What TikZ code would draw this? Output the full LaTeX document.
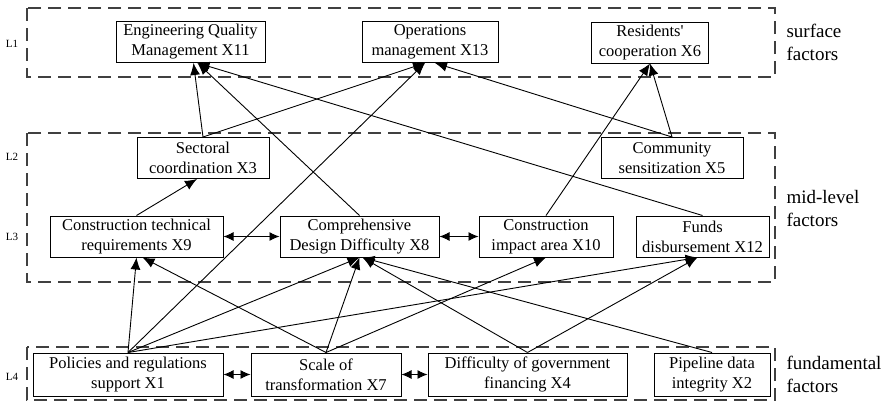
\documentclass[tikz,border=0pt]{standalone}
\usepackage{fontspec}
\setmainfont{Liberation Serif}
\usetikzlibrary{arrows.meta}

\tikzset{
  box/.style={draw, line width=1pt, align=center, inner sep=1pt,
    minimum height=41pt, font=\fontsize{16.5}{20}\selectfont},
  layerbox/.style={draw=black!75, line width=1.1pt, dash pattern=on 13pt off 7pt},
  lvl/.style={font=\fontsize{11}{13}\selectfont},
  side/.style={anchor=west, align=left, font=\fontsize{19}{23}\selectfont},
  link/.style={line width=0.9pt, -{Latex[length=12pt,width=10pt]}},
  both/.style={line width=0.9pt, {Latex[length=10pt,width=9pt]}-{Latex[length=10pt,width=9pt]}}
}

\begin{document}
\begin{tikzpicture}[x=1pt, y=-1pt]
\useasboundingbox (0,0) rectangle (892,402);
% layers
\draw [layerbox] (27,8) rectangle (775,77);
\draw [layerbox] (27,133) rectangle (775,282);
\draw [layerbox] (27,347) rectangle (775,400);
\node [lvl] (l1) at (12,44) {L1};
\node [lvl] (l2) at (12,157) {L2};
\node [lvl] (l3) at (12,237) {L3};
\node [lvl] (l4) at (12,377) {L4};
\node [side] (surf) at (783,42) {surface\\factors};
\node [side] (mid) at (783,208) {mid-level\\factors};
\node [side] (fund) at (783,374) {fundamental\\factors};
% L1
\node [box, minimum width=149pt] (x11) at (190.5,42) {Engineering Quality\\Management X11};
\node [box, minimum width=136pt] (x13) at (430,42) {Operations\\management X13};
\node [box, minimum width=117pt] (x6) at (650,42.5) {Residents\textquotesingle\\cooperation X6};
% L2
\node [box, minimum width=132pt] (x3) at (203,158) {Sectoral\\coordination X3};
\node [box, minimum width=142pt] (x5) at (672,158) {Community\\sensitization X5};
% L3
\node [box, minimum width=173pt] (x9) at (136.5,236.5) {Construction technical\\requirements X9};
\node [box, minimum width=159pt] (x8) at (359.5,236.5) {Comprehensive\\Design Difficulty X8};
\node [box, minimum width=134pt] (x10) at (546,236.5) {Construction\\impact area X10};
\node [box, minimum width=133pt] (x12) at (702.5,236.5) {Funds\\disbursement X12};
% L4
\node [box, minimum width=190pt, minimum height=43pt] (x1) at (128,374.5) {Policies and regulations\\support X1};
\node [box, minimum width=150pt, minimum height=43pt] (x7) at (326,374.5) {Scale of\\transformation X7};
\node [box, minimum width=199pt, minimum height=43pt] (x4) at (527.5,374.5) {Difficulty of government\\financing X4};
\node [box, minimum width=116pt, minimum height=43pt] (x2) at (712,374.5) {Pipeline data\\integrity X2};
% arrows into L1
\draw [link] (x3.north) -- ([xshift=3pt]x11.south);
\draw [link] (x8.north) -- ([xshift=7pt]x11.south);
\draw [link] (x12.north) -- ([xshift=7pt]x11.south);
\draw [link] (x3.north) -- ([xshift=-5pt]x13.south);
\draw [link] (x1.north) -- ([xshift=-5pt]x13.south);
\draw [link] (x5.north) -- ([xshift=5pt]x13.south);
\draw [link] (x10.north) -- (x6.south);
\draw [link] (x5.north) -- (x6.south);
% L3 and L2
\draw [link] (x9.north) -- ([xshift=-6pt]x3.south);
\draw [both] (x9.east) -- (x8.west);
\draw [both] (x8.east) -- (x10.west);
% arrows from L4
\draw [link] (x1.north) -- (x9.south);
\draw [link] (x7.north) -- ([xshift=6pt]x9.south);
\draw [link] (x1.north) -- (x8.south);
\draw [link] (x7.north) -- (x8.south);
\draw [link] (x4.north) -- ([xshift=3pt]x8.south);
\draw [link] (x2.north) -- ([xshift=3pt]x8.south);
\draw [link] (x7.north) -- (x10.south);
\draw [link] (x1.north) -- ([xshift=-5pt]x12.south);
\draw [link] (x4.north) -- ([xshift=-5pt]x12.south);
\draw [both] (x1.east) -- (x7.west);
\draw [both] (x7.east) -- (x4.west);
\end{tikzpicture}
\end{document}
